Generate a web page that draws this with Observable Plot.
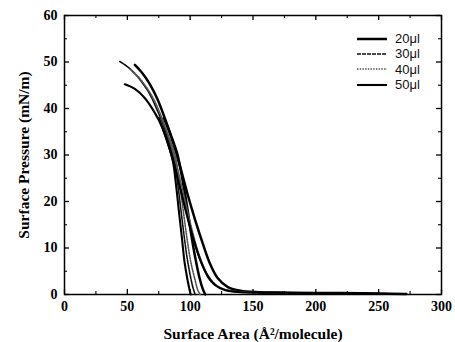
<!DOCTYPE html>
<html>
<head>
<meta charset="utf-8">
<script src="https://cdn.jsdelivr.net/npm/d3@7"></script>
<script src="https://cdn.jsdelivr.net/npm/@observablehq/plot@0.6"></script>
<style>
  html, body { margin: 0; padding: 0; background: #fff; }
  #wrap { position: relative; width: 455px; height: 342px; }
  #legend { position: absolute; left: 357px; top: 31px; font-family: "Liberation Sans", Arial, sans-serif; font-size: 13px; color: #111; }
  #legend .row { display: flex; align-items: center; height: 15.3px; }
  #legend svg { margin-right: 8px; }
</style>
</head>
<body>
<div id="wrap">
  <div id="chart"></div>
  <div id="legend"></div>
</div>
<script>
// ---- Data ----
const seriesNames = ["20\u03bcl", "30\u03bcl", "40\u03bcl", "50\u03bcl"];

// compression runs (long tails)
const comp20 = [[56,49.4],[62,47.6],[68,45.2],[74,42],[80,37.8],[86,33],[92,27.5],[98,21.5],[104,16],[110,11],[116,6.5],[122,3.5],[130,1.6],[140,0.8],[155,0.5],[180,0.4],[220,0.3],[250,0.2],[272,0.1]];
const comp30 = [[44,50.1],[50,49],[56,47.5],[62,45.5],[68,43],[74,39.5],[80,35.5],[86,30],[92,23.5],[98,16.5],[104,10.5],[110,6],[116,3],[124,1.4],[135,0.7],[150,0.5],[190,0.3],[230,0.2]];
const comp40 = [[52,48.5],[58,47],[64,45],[70,42.5],[76,39],[82,34.5],[88,29],[94,22.5],[100,15.5],[106,9.5],[112,5.2],[118,2.7],[126,1.2],[138,0.6],[160,0.4],[200,0.3]];
const comp50 = [[48,45.2],[56,44.2],[64,42.2],[72,39],[78,35.8],[84,31],[90,25],[96,18.5],[102,12.5],[108,7.5],[114,4],[120,2],[128,0.9],[140,0.5],[160,0.4],[200,0.3],[240,0.2],[262,0.1]];

// expansion runs (steep drops)
const exp20 = [[79,38],[85,34],[90,30],[94,24.5],[97.5,19],[100.5,13.5],[104,8],[107.5,3.5],[110,1.2],[112,0]];
const exp30 = [[77,38],[82,34],[87,29.5],[90,24],[92.5,18.5],[95,13],[97.5,8],[100.5,3.5],[102.5,1.2],[104,0]];
const exp40 = [[77,38],[83,34],[88,30],[91.5,24],[94.5,18],[97.5,12],[100.5,7],[104,3],[106,1],[108,0]];
const exp50 = [[75,38],[81,33.5],[86,29],[89,23],[91,18],[93.5,12],[95.5,7],[98,3],[99.5,1],[100.5,0]];

const xTicks = [0, 50, 100, 150, 200, 250, 300];
const xMinor = [25, 75, 125, 175, 225, 275];
const yTicks = [0, 10, 20, 30, 40, 50, 60];
const yMinor = [5, 15, 25, 35, 45, 55];

// ---- styles per series ----
const styles = {
  "20\u03bcl": {stroke: "#000", strokeWidth: 2.5},
  "30\u03bcl": {stroke: "#111", strokeWidth: 1.6, strokeDasharray: "4,1"},
  "40\u03bcl": {stroke: "#555", strokeWidth: 1.6, strokeDasharray: "1.5,1.2"},
  "50\u03bcl": {stroke: "#000", strokeWidth: 2.1}
};
const runs = {
  "20\u03bcl": [comp20, exp20],
  "30\u03bcl": [comp30, exp30],
  "40\u03bcl": [comp40, exp40],
  "50\u03bcl": [comp50, exp50]
};

const lineMarks = [];
for (const name of seriesNames) {
  runs[name].forEach((pts) => {
    lineMarks.push(Plot.line(pts, {x: d => d[0], y: d => d[1], curve: "catmull-rom", ...styles[name]}));
  });
}

// plot geometry
const W = 455, H = 342, mL = 64, mR = 14, mT = 15, mB = 48;
const innerW = W - mL - mR, innerH = H - mT - mB;
const xDom = [0, 300], yDom = [0, 60];
// tick lengths converted from pixels to data units
const pxX = (xDom[1] - xDom[0]) / innerW, pxY = (yDom[1] - yDom[0]) / innerH;
const T = 5, t = 3;

const tickMarks = [];
for (const [vals, len, sw] of [[xTicks, T, 1.3], [xMinor, t, 1.1]]) {
  tickMarks.push(Plot.ruleX(vals, {x: d => d, y1: yDom[0], y2: yDom[0] + len * pxY, stroke: "#000", strokeWidth: sw}));
  tickMarks.push(Plot.ruleX(vals, {x: d => d, y1: yDom[1] - len * pxY, y2: yDom[1], stroke: "#000", strokeWidth: sw}));
}
for (const [vals, len, sw] of [[yTicks, T, 1.3], [yMinor, t, 1.1]]) {
  tickMarks.push(Plot.ruleY(vals, {y: d => d, x1: xDom[0], x2: xDom[0] + len * pxX, stroke: "#000", strokeWidth: sw}));
  tickMarks.push(Plot.ruleY(vals, {y: d => d, x1: xDom[1] - len * pxX, x2: xDom[1], stroke: "#000", strokeWidth: sw}));
}

const chart = Plot.plot({
  width: W,
  height: H,
  marginLeft: mL,
  marginRight: mR,
  marginTop: mT,
  marginBottom: mB,
  style: {background: "#fff", fontFamily: "'Liberation Serif', 'Times New Roman', serif", fontSize: "14px", fontWeight: "bold", color: "#000"},
  x: {domain: xDom},
  y: {domain: yDom},
  marks: [
    // tick labels
    Plot.axisX({ticks: xTicks, tickSize: 0, tickPadding: 7, label: null}),
    Plot.axisY({ticks: yTicks, tickSize: 0, tickPadding: 7, label: null}),
    // axis titles
    Plot.axisX({ticks: [], tickSize: 0, fontSize: 15.5, label: "Surface Area (\u00c5\u00b2/molecule)", labelAnchor: "center", labelOffset: 44, labelArrow: false}),
    Plot.axisY({ticks: [], tickSize: 0, fontSize: 15.5, label: "Surface Pressure (mN/m)", labelAnchor: "center", labelOffset: 47, labelArrow: false}),
    ...tickMarks,
    Plot.frame({stroke: "#000", strokeWidth: 1.5}),
    ...lineMarks
  ]
});
document.getElementById("chart").appendChild(chart);

// legend
const legend = document.getElementById("legend");
for (const name of seriesNames) {
  const s = styles[name];
  const row = document.createElement("div");
  row.className = "row";
  row.innerHTML = `<svg width="30" height="6"><line x1="0" x2="30" y1="3" y2="3" stroke="${s.stroke}" stroke-width="${s.strokeWidth}" ${s.strokeDasharray ? `stroke-dasharray="${s.strokeDasharray}"` : ""}/></svg><span>${name}</span>`;
  legend.appendChild(row);
}
</script>
</body>
</html>
